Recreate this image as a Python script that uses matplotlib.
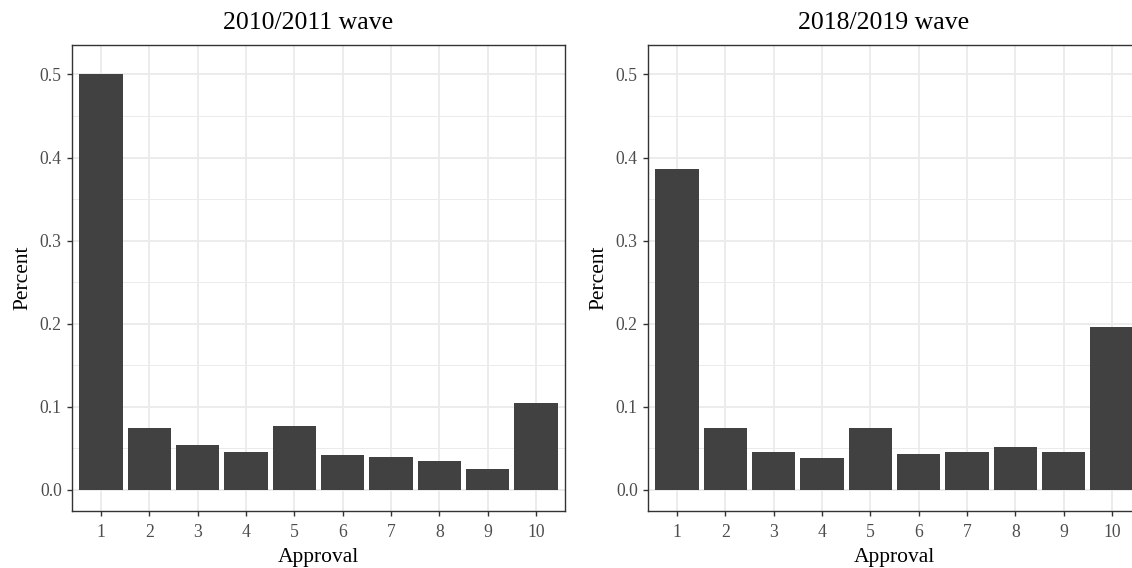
import matplotlib
matplotlib.use("Agg")
import matplotlib.pyplot as plt
import numpy as np
from matplotlib.ticker import MultipleLocator

plt.rcParams["font.family"] = ["Liberation Serif", "DejaVu Serif"]

approval = [1, 2, 3, 4, 5, 6, 7, 8, 9, 10]
share_2010 = [0.501, 0.075, 0.054, 0.046, 0.077, 0.042, 0.039, 0.035, 0.025, 0.105]
share_2018 = [0.386, 0.0745, 0.045, 0.0385, 0.0745, 0.043, 0.045, 0.051, 0.045, 0.196]
titles = ["2010/2011 wave", "2018/2019 wave"]

BAR = "#414141"
GRID = "#EBEBEB"
FRAME = "#333333"
TICKTXT = "#4D4D4D"

W, H = 1132, 568
fig = plt.figure(figsize=(W / 100, H / 100), dpi=100)

# panel boxes in pixels: left edge, top, width, height
panels = [(72, 45, 493, 466), (648, 45, 493, 466)]

for (px, py, pw, ph), title, vals in zip(panels, titles, [share_2010, share_2018]):
    ax = fig.add_axes([px / W, 1 - (py + ph) / H, pw / W, ph / H])
    ax.bar(approval, vals, width=0.9, color=BAR, zorder=2)

    ax.set_xlim(0.4, 10.6)
    ax.set_ylim(-0.0255, 0.5355)
    ax.set_xticks(approval)
    ax.yaxis.set_major_locator(MultipleLocator(0.1))
    ax.yaxis.set_minor_locator(MultipleLocator(0.05))
    ax.yaxis.set_major_formatter(plt.FuncFormatter(lambda v, _: f"{v:.1f}"))

    ax.grid(which="major", color=GRID, linewidth=1.3, zorder=0)
    ax.grid(which="minor", axis="y", color=GRID, linewidth=0.7, zorder=0)
    ax.set_axisbelow(True)

    for sp in ax.spines.values():
        sp.set_color(FRAME)
        sp.set_linewidth(1.0)

    ax.tick_params(axis="both", which="major", length=3.8, width=1.0,
                   color=FRAME, labelcolor=TICKTXT, labelsize=12.7)
    ax.tick_params(axis="x", pad=5.5)
    ax.tick_params(axis="y", pad=3.5)
    ax.tick_params(which="minor", length=0)

    ax.set_xlabel("Approval", fontsize=15.5, labelpad=5)
    ax.set_ylabel("Percent", fontsize=15.5, labelpad=5)
    ax.set_title(title, fontsize=18.5, x=0.478, pad=11.5)

fig.savefig("out.png", dpi=100)
